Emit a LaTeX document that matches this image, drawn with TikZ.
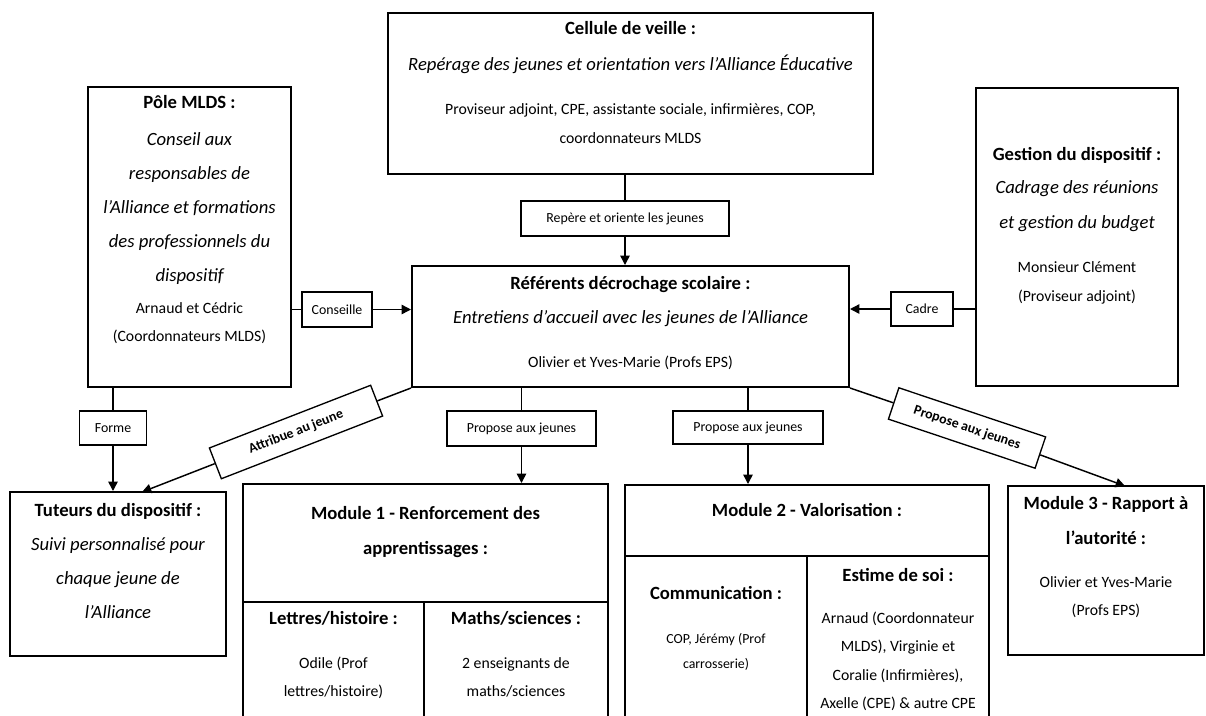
\documentclass[tikz,border=0pt]{standalone}
\usepackage{fontspec}
\setmainfont{Carlito}
\usetikzlibrary{fit,arrows.meta}
\tikzset{
 bx/.style={draw, line width=1.5pt, inner sep=0pt},
 lb/.style={draw, line width=1pt, inner sep=0pt, font=\fontsize{10.4}{12}\selectfont},
 conn/.style={line width=1.1pt},
 arr/.style={conn, -{Triangle[length=7pt,width=7pt]}},
 T/.style={inner sep=0pt, text height=9.2pt, text depth=2.5pt, font=\fontsize{14}{17}\selectfont\bfseries},
 I/.style={inner sep=0pt, text height=9.2pt, text depth=2.5pt, font=\fontsize{14}{17}\selectfont\itshape},
 B/.style={inner sep=0pt, text height=7.8pt, text depth=2.1pt, font=\fontsize{11.8}{14}\selectfont},
 S/.style={inner sep=0pt, text height=6.9pt, text depth=1.9pt, font=\fontsize{10.4}{12}\selectfont},
}
\begin{document}
\begin{tikzpicture}[x=0.75pt,y=-0.75pt]
\clip (0,0) rectangle (1206,715);
\fill[white] (0,0) rectangle (1206,715);

% boxes
\node[bx, fit={(388,13) (873,174)}] (cel) {};
\node[bx, fit={(88,87) (291,387)}] (pole) {};
\node[bx, fit={(976,88) (1178,386)}] (ges) {};
\node[bx, fit={(412,266) (849,387)}] (ref) {};
\node[bx, fit={(10,492) (226,656)}] (tut) {};
\node[bx, fit={(243,484) (608,602)}] (m1) {};
\node[bx, fit={(243,602) (424,740)}] (m1a) {};
\node[bx, fit={(424,602) (608,740)}] (m1b) {};
\node[bx, fit={(625,485) (989,556)}] (m2) {};
\node[bx, fit={(625,556) (807,740)}] (m2a) {};
\node[bx, fit={(807,556) (989,740)}] (m2b) {};
\node[bx, fit={(1008,486) (1204,655)}] (m3) {};

% texts
\node[T] (cel1) at (630.5,30) {Cellule de veille :};
\node[I] (cel2) at (630.5,66) {Repérage des jeunes et orientation vers l’Alliance Éducative};
\node[B] (cel3) at (630.5,111) {Proviseur adjoint, CPE, assistante sociale, infirmières, COP,};
\node[B] (cel4) at (630.5,140) {coordonnateurs MLDS};

\node[T] (pol1) at (189.5,104) {Pôle MLDS :};
\node[I] (pol2) at (189.5,141) {Conseil aux};
\node[I] (pol3) at (189.5,175) {responsables de};
\node[I] (pol4) at (189.5,209) {l’Alliance et formations};
\node[I] (pol5) at (189.5,243) {des professionnels du};
\node[I] (pol6) at (189.5,277) {dispositif};
\node[B] (pol7) at (189.5,310) {Arnaud et Cédric};
\node[B] (pol8) at (189.5,338) {(Coordonnateurs MLDS)};

\node[T] (ges1) at (1077,156) {Gestion du dispositif :};
\node[I] (ges2) at (1077,189) {Cadrage des réunions};
\node[I] (ges3) at (1077,224) {et gestion du budget};
\node[B] (ges4) at (1077,269) {Monsieur Clément};
\node[B] (ges5) at (1077,298) {(Proviseur adjoint)};

\node[T] (ref1) at (630.5,285) {Référents décrochage scolaire :};
\node[I] (ref2) at (630.5,319) {Entretiens d’accueil avec les jeunes de l’Alliance};
\node[B] (ref3) at (630.5,364) {Olivier et Yves-Marie (Profs EPS)};

\node[T] (tut1) at (118,512) {Tuteurs du dispositif :};
\node[I] (tut2) at (118,546) {Suivi personnalisé pour};
\node[I] (tut3) at (118,580) {chaque jeune de};
\node[I] (tut4) at (118,614) {l’Alliance};

\node[T] (m1t1) at (425.5,515) {Module 1 - Renforcement des};
\node[T] (m1t2) at (425.5,550) {apprentissages :};
\node[T] (m1a1) at (333.5,620) {Lettres/histoire :};
\node[B] (m1a2) at (333.5,665) {Odile (Prof};
\node[B] (m1a3) at (333.5,693) {lettres/histoire)};
\node[T] (m1b1) at (516,620) {Maths/sciences :};
\node[B] (m1b2) at (516,665) {2 enseignants de};
\node[B] (m1b3) at (516,693) {maths/sciences};

\node[T] (m2t1) at (807,512) {Module 2 - Valorisation :};
\node[T] (m2a1) at (716,595) {Communication :};
\node[S] (m2a2) at (716,640) {COP, Jérémy (Prof};
\node[S] (m2a3) at (716,665) {carrosserie)};
\node[T] (m2b1) at (898,577) {Estime de soi :};
\node[B] (m2b2) at (898,620) {Arnaud (Coordonnateur};
\node[B] (m2b3) at (898,648) {MLDS), Virginie et};
\node[B] (m2b4) at (898,677) {Coralie (Infirmières),};
\node[B] (m2b5) at (898,705) {Axelle (CPE) \& autre CPE};

\node[T] (m3t1) at (1106,505) {Module 3 - Rapport à};
\node[T] (m3t2) at (1106,540) {l’autorité :};
\node[B] (m3t3) at (1106,584) {Olivier et Yves-Marie};
\node[B] (m3t4) at (1106,612) {(Profs EPS)};

% labels
\node[lb, minimum width=156pt, minimum height=26.25pt] (rep) at (625,218.5) {Repère et oriente les jeunes};
\node[lb, minimum width=52.5pt, minimum height=26.25pt] (con) at (337,309.5) {Conseille};
\node[lb, minimum width=46.5pt, minimum height=25.5pt] (cad) at (922,309) {Cadre};
\node[lb, minimum width=50.25pt, minimum height=25.5pt] (forme) at (113,428) {Forme};
\node[lb, minimum width=111.75pt, minimum height=26.25pt] (p1) at (521.5,428.5) {Propose aux jeunes};
\node[lb, minimum width=112.5pt, minimum height=24.75pt] (p2) at (748,427.5) {Propose aux jeunes};
\node[lb, font=\fontsize{10.4}{12}\selectfont\bfseries, minimum width=129.75pt, minimum height=24.75pt, rotate=21.25] (att) at (296,432) {Attribue au jeune};
\node[lb, font=\fontsize{10.4}{12}\selectfont\bfseries, minimum width=116pt, minimum height=24.75pt, rotate=-18.5] (pr3) at (967,428) {Propose aux jeunes};

\coordinate (tutin) at (142,492);
\coordinate (m3in) at (1125,486);

% connectors
\draw[conn] (rep.north |- cel.south) -- (rep.north);
\draw[arr] (rep.south) -- (rep.south |- ref.north);
\draw[conn] (con.west -| pole.east) -- (con.west);
\draw[arr] (con.east) -- (con.east -| ref.west);
\draw[conn] (cad.east -| ges.west) -- (cad.east);
\draw[arr] (cad.west) -- (cad.west -| ref.east);
\draw[conn] (forme.north |- pole.south) -- (forme.north);
\draw[arr] (forme.south) -- (forme.south |- tut.north);
\draw[conn] (ref.south west) -- (att);
\draw[arr] (att) -- (tutin);
\draw[conn] (ref.south east) -- (pr3);
\draw[arr] (pr3) -- (m3in);
\draw[conn] (p1.north |- ref.south) -- (p1.north);
\draw[arr] (p1.south) -- (p1.south |- m1.north);
\draw[conn] (p2.north |- ref.south) -- (p2.north);
\draw[arr] (p2.south) -- (p2.south |- m2.north);
\end{tikzpicture}
\end{document}
